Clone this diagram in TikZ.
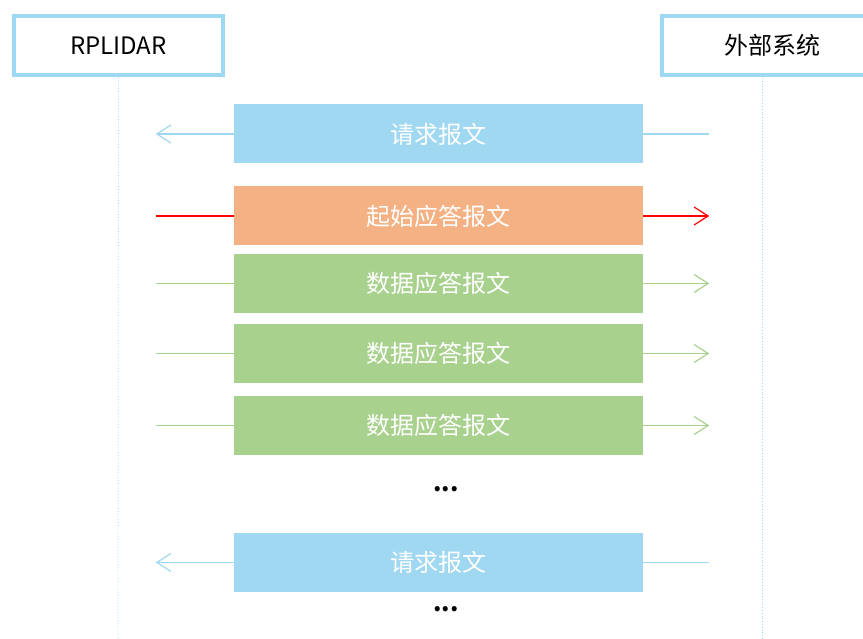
\documentclass[tikz,border=0pt]{standalone}
\usepackage{fontspec}
\setmainfont{Noto Sans CJK SC}
\usetikzlibrary{arrows.meta}
\definecolor{lblue}{HTML}{A0D8F2}
\definecolor{borderblue}{HTML}{9DD9F3}
\definecolor{orangefill}{HTML}{F4B183}
\definecolor{greenfill}{HTML}{A9D18E}
\definecolor{lifeblue}{HTML}{9DD9F3}
\definecolor{arrowred}{HTML}{FF0000}
\tikzset{
  actor/.style={draw=borderblue, line width=4pt, fill=white, minimum width=209pt, minimum height=59pt, inner sep=0pt, font=\fontsize{24}{28}\selectfont, text=black},
  msg/.style={minimum width=409pt, minimum height=59pt, inner sep=0pt, text=white, font=\fontsize{24}{28}\selectfont},
  reqmsg/.style={msg, fill=lblue},
  startmsg/.style={msg, fill=orangefill},
  datamsg/.style={msg, fill=greenfill},
  lifeline/.style={draw=lifeblue, dotted, line width=0.8pt},
  tip/.style={-{Straight Barb[length=14pt,width=18pt,line width=1.2pt]}},
  blueline/.style={draw=lblue, line width=1.5pt},
  redline/.style={draw=arrowred, line width=1.3pt},
  greenline/.style={draw=greenfill, line width=1.5pt},
  dots/.style={font=\fontsize{24}{28}\selectfont\bfseries, text=black}
}
\begin{document}
\begin{tikzpicture}[x=1pt,y=-1pt]
\useasboundingbox (0,0) rectangle (863,639);
% lifelines
\coordinate (lbot) at (118,639);
\coordinate (rbot) at (762,639);
\node[actor] (rp) at (118.5,45.5) {RPLIDAR};
\node[actor, minimum width=220pt] (ext) at (772,45.5) {外部系统};
\coordinate (rtop) at (762,78);
\draw[lifeline] (rp.south) -- (lbot);
\draw[lifeline] (rtop) -- (rbot);
% messages
\node[reqmsg] (m1) at (438.5,134) {请求报文};
\node[startmsg] (m2) at (438.5,216) {起始应答报文};
\node[datamsg] (m3) at (438.5,283.5) {数据应答报文};
\node[datamsg] (m4) at (438.5,353.5) {数据应答报文};
\node[datamsg] (m5) at (438.5,425.5) {数据应答报文};
\node[dots] (d1) at (446,489) {...};
\node[reqmsg] (m6) at (438.5,562.5) {请求报文};
\node[dots] (d2) at (446,609) {...};
% ends
\foreach \m in {m1,m2,m3,m4,m5,m6}{
  \coordinate (\m L) at ([xshift=-78pt]\m.west);
  \coordinate (\m R) at ([xshift=66pt]\m.east);
}
\draw[blueline, tip] (m1.west) -- (m1L);
\draw[blueline] (m1.east) -- (m1R);
\draw[redline] (m2L) -- (m2.west);
\draw[redline, tip] (m2.east) -- (m2R);
\foreach \m in {m3,m4,m5}{
  \draw[greenline] (\m L) -- (\m.west);
  \draw[greenline, tip] (\m.east) -- (\m R);
}
\draw[blueline, tip] (m6.west) -- (m6L);
\draw[blueline] (m6.east) -- (m6R);
\end{tikzpicture}
\end{document}
